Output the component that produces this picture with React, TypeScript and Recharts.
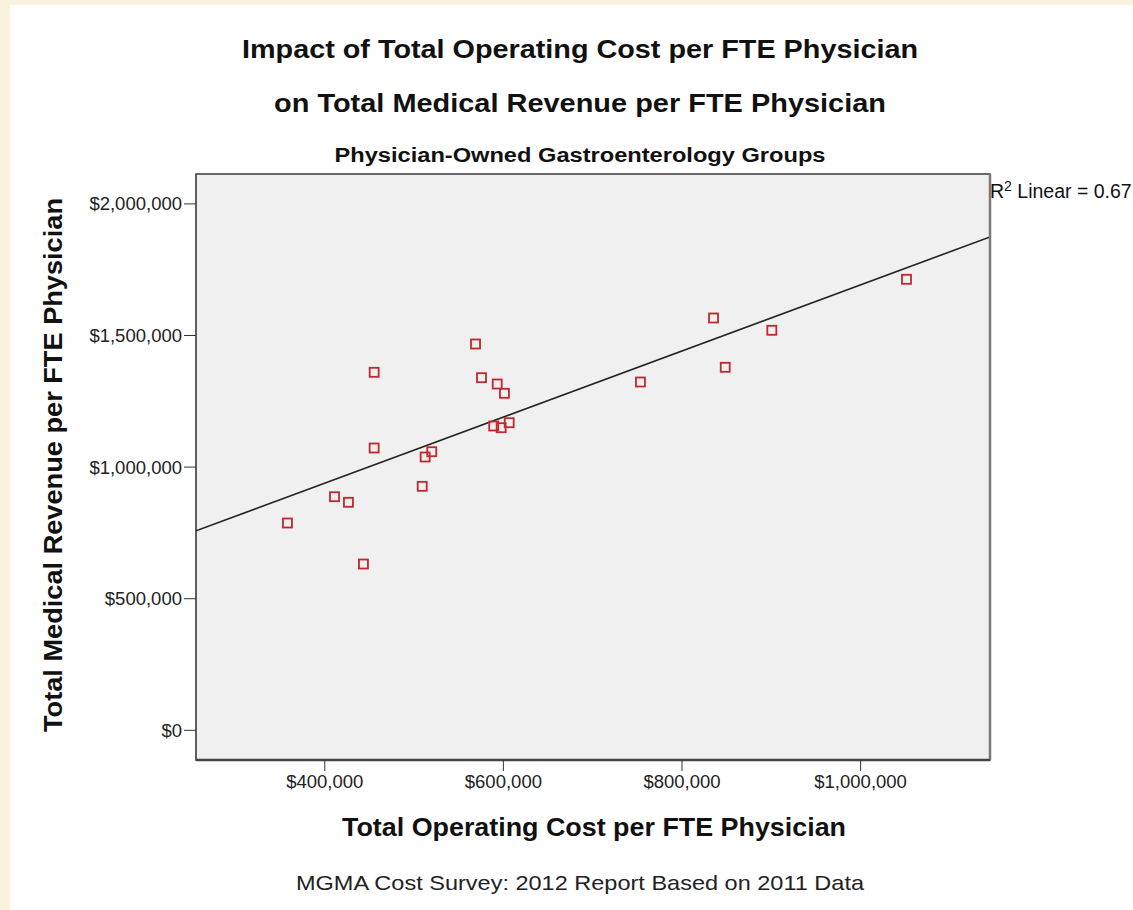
import React from 'react';
import {
  ScatterChart,
  Scatter,
  XAxis,
  YAxis,
  CartesianGrid,
  ReferenceArea,
  ReferenceLine,
} from 'recharts';

// operating cost per FTE physician (x) and medical revenue per FTE physician (y)
const costs = [
  568800, 455300, 575500, 593100, 601200, 589200, 597500, 606500, 455300, 519800, 512400,
  509100, 410900, 426500, 358200, 443300, 753500, 835300, 848400, 900600, 1051400,
];
const revenues = [
  1467700, 1360200, 1339700, 1315700, 1280400, 1156200, 1149700, 1168700, 1072600, 1058500,
  1038400, 927000, 887500, 866300, 787600, 631800, 1323300, 1566500, 1379200, 1519800, 1713500,
];

const xTicks = [400000, 600000, 800000, 1000000];
const yTicks = [0, 500000, 1000000, 1500000, 2000000];

// fit line end points
const fitLine = [
  { x: 255800, y: 758000 },
  { x: 1144900, y: 1874400 },
];

const X_DOMAIN: [number, number] = [255800, 1144900];
const Y_DOMAIN: [number, number] = [-112800, 2113600];

const FONT = '"Liberation Sans", Arial, Helvetica, sans-serif';

const points = costs.map((c, i) => ({ x: c, y: revenues[i] }));

const money = (v: number) => '$' + v.toLocaleString('en-US');

const SquareMarker = (props: any) => {
  const { cx, cy } = props;
  if (cx == null || cy == null) return null;
  return (
    <rect x={cx - 4.5} y={cy - 4.5} width={9} height={9} fill="none" stroke="#c1272d" strokeWidth={1.8} />
  );
};

export default function App() {
  return (
    <div style={{ position: 'absolute', left: 0, top: 0, width: 1133, height: 910, background: '#f9f2df' }}>
      <div style={{ position: 'absolute', left: 10, top: 5, width: 1123, height: 905, background: '#fff' }} />
      <div style={{ position: 'absolute', left: 0, top: 0 }}>
        <ScatterChart width={1133} height={910} margin={{ top: 174, right: 143, bottom: 0, left: 0 }}>
          <CartesianGrid fill="#f0f0f0" horizontal={false} vertical={false} />
          <XAxis
            type="number"
            dataKey="x"
            domain={X_DOMAIN}
            allowDataOverflow
            ticks={xTicks}
            tickFormatter={money}
            height={150}
            axisLine={false}
            tickSize={11}
            tickMargin={4}
            tickLine={{ stroke: '#333' }}
            tick={{ fill: '#222', fontSize: 18.5, fontFamily: FONT }}
          />
          <YAxis
            type="number"
            dataKey="y"
            domain={Y_DOMAIN}
            allowDataOverflow
            ticks={yTicks}
            tickFormatter={money}
            width={196}
            axisLine={false}
            tickSize={12}
            tickMargin={2}
            tickLine={{ stroke: '#333' }}
            tick={{ fill: '#222', fontSize: 18.5, fontFamily: FONT }}
          />
          <ReferenceLine
            segment={fitLine}
            stroke="#222"
            strokeWidth={1.6}
            ifOverflow="hidden"
          />
          <Scatter data={points} shape={SquareMarker} isAnimationActive={false} />
          <ReferenceArea
            x1={X_DOMAIN[0]}
            x2={X_DOMAIN[1]}
            y1={Y_DOMAIN[0]}
            y2={Y_DOMAIN[1]}
            fill="none"
            fillOpacity={0}
            stroke="#3a3a3a"
            strokeWidth={1.6}
            ifOverflow="visible"
          />
          <ReferenceLine x={X_DOMAIN[1]} stroke="#7a7a7a" strokeWidth={2.5} ifOverflow="visible" />
          <ReferenceLine y={Y_DOMAIN[0]} stroke="#444" strokeWidth={2.5} ifOverflow="visible" />
        </ScatterChart>
      </div>
      <svg
        width={1133}
        height={910}
        style={{ position: 'absolute', left: 0, top: 0, pointerEvents: 'none' }}
        fontFamily={FONT}
      >
        <text x={580} y={58} textAnchor="middle" fontSize={26} fontWeight="bold" fill="#111" textLength={676} lengthAdjust="spacingAndGlyphs">
          Impact of Total Operating Cost per FTE Physician
        </text>
        <text x={580} y={112} textAnchor="middle" fontSize={26} fontWeight="bold" fill="#111" textLength={612} lengthAdjust="spacingAndGlyphs">
          on Total Medical Revenue per FTE Physician
        </text>
        <text x={580} y={162} textAnchor="middle" fontSize={20} fontWeight="bold" fill="#111" textLength={491} lengthAdjust="spacingAndGlyphs">
          Physician-Owned Gastroenterology Groups
        </text>
        <text x={990} y={198} fontSize={19.5} fill="#111">
          R<tspan dy={-7} fontSize={14}>2</tspan>
          <tspan dy={7}> Linear = 0.67</tspan>
        </text>
        <text x={594} y={836} textAnchor="middle" fontSize={25} fontWeight="bold" fill="#111" textLength={504} lengthAdjust="spacingAndGlyphs">
          Total Operating Cost per FTE Physician
        </text>
        <text
          x={-465}
          y={62}
          transform="rotate(-90)"
          textAnchor="middle"
          fontSize={25}
          fontWeight="bold"
          fill="#111"
          textLength={534}
          lengthAdjust="spacingAndGlyphs"
        >
          Total Medical Revenue per FTE Physician
        </text>
        <text x={580} y={890} textAnchor="middle" fontSize={21} fill="#222" textLength={568} lengthAdjust="spacingAndGlyphs">
          MGMA Cost Survey: 2012 Report Based on 2011 Data
        </text>
      </svg>
    </div>
  );
}
